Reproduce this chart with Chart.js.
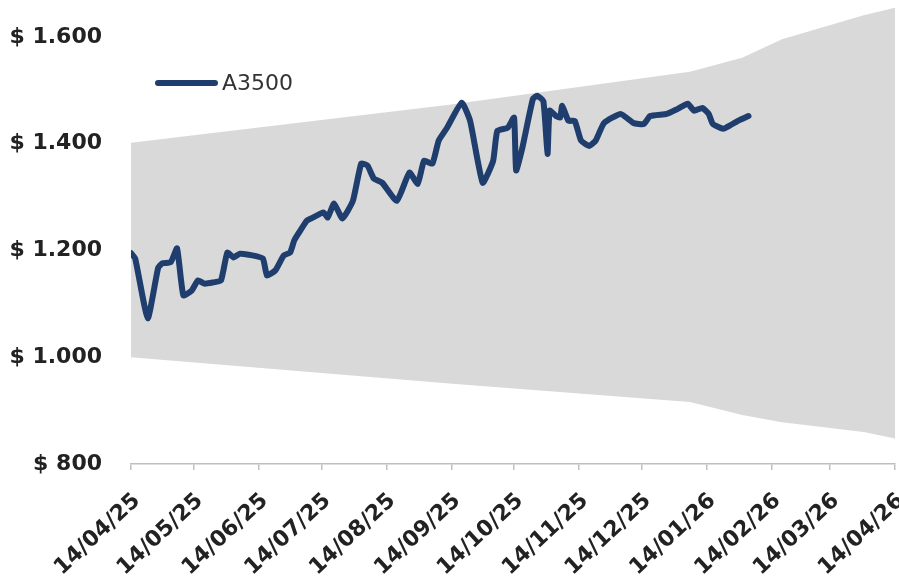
<!DOCTYPE html>
<html>
<head>
<meta charset="utf-8">
<script src="https://cdn.jsdelivr.net/npm/chart.js@4.4.1/dist/chart.umd.min.js"></script>
<style>
  html, body { margin: 0; padding: 0; background: #fff; }
  #wrap { position: relative; width: 899px; height: 580px; }
  #legenda { position: absolute; left: 155px; top: 70px; display: flex; align-items: center; font: 22px "DejaVu Sans"; color: #333; }
  #legenda .linha { display: inline-block; width: 63px; height: 6px; border-radius: 3px; background: #1f3e6e; margin-right: 4px; }
</style>
</head>
<body>
<div id="wrap">
  <canvas id="grafico" width="899" height="580"></canvas>
  <div id="legenda"><span class="linha"></span>A3500</div>
</div>
<script>
// rotulos do eixo x (datas) e do eixo y
const rotulosX = ['14/04/25', '14/05/25', '14/06/25', '14/07/25', '14/08/25', '14/09/25', '14/10/25',
                  '14/11/25', '14/12/25', '14/01/26', '14/02/26', '14/03/26', '14/04/26'];
const valoresY = [800, 1000, 1200, 1400, 1600];
const rotulosY = ['$ 800', '$ 1.000', '$ 1.200', '$ 1.400', '$ 1.600'];

// serie A3500 (dias desde 14/04/25)
const diasA3500 = [0, 2, 8, 13, 15, 19, 22, 25, 29, 32, 35, 39, 43, 46, 49, 52, 58, 63, 65, 69,
                   73, 76, 78, 80, 84, 86, 92, 94, 97, 101, 106, 110, 113, 116, 120, 127, 133, 137, 140, 144,
                   147, 151, 158, 162, 168, 173, 175, 180, 183, 184, 187, 192, 194, 197, 199, 200, 203, 205, 206, 209,
                   212, 215, 219, 222, 226, 234, 240, 245, 248, 256, 261, 266, 269, 273, 276, 278, 283, 286, 290, 295];
const valoresA3500 = [1195, 1185, 1073, 1168, 1176, 1178, 1204, 1116, 1125, 1144, 1138, 1140, 1144, 1196, 1187, 1194, 1191, 1185, 1153, 1163,
                      1191, 1196, 1219, 1232, 1256, 1260, 1271, 1262, 1288, 1260, 1293, 1363, 1359, 1335, 1327, 1293, 1346, 1325, 1368, 1363,
                      1406, 1430, 1477, 1443, 1327, 1368, 1424, 1430, 1449, 1350, 1393, 1484, 1490, 1480, 1381, 1462, 1452, 1449, 1471, 1443,
                      1443, 1406, 1396, 1406, 1439, 1456, 1439, 1437, 1452, 1456, 1465, 1475, 1462, 1467, 1456, 1437, 1428, 1434, 1443, 1452];

// banda (limites superior e inferior)
const diasBanda = [0, 152, 267, 292, 311, 350, 365];
const bandaSuperior = [1402, 1473, 1535, 1561, 1596, 1641, 1655];
const bandaInferior = [1000, 951, 916, 892, 878, 860, 848];

function diasDesde(rotulo) {
    const [d, m, a] = rotulo.split('/').map(Number);
    return Math.round((Date.UTC(2000 + a, m - 1, d) - Date.UTC(2025, 3, 14)) / 86400000);
}
const diasX = rotulosX.map(diasDesde);

const pontos = (xs, ys) => xs.map((x, i) => ({ x: x, y: ys[i] }));
const fonte = { family: 'DejaVu Sans', size: 22, weight: 'bold' };

function semPadding(s) {
    s.paddingLeft = 0;
    s.paddingRight = 0;
    s.paddingTop = 0;
    s.paddingBottom = 0;
}

new Chart(document.getElementById('grafico'), {
    type: 'line',
    data: {
        datasets: [{
            label: 'A3500',
            data: pontos(diasA3500, valoresA3500),
            borderColor: '#1f3e6e',
            borderWidth: 6,
            pointRadius: 0,
            tension: 0.15,
            borderJoinStyle: 'round',
            borderCapStyle: 'round',
            fill: false
        }, {
            label: 'Superior',
            data: pontos(diasBanda, bandaSuperior),
            borderWidth: 0,
            pointRadius: 0,
            backgroundColor: '#d9d9d9',
            fill: '+1'
        }, {
            label: 'Inferior',
            data: pontos(diasBanda, bandaInferior),
            borderWidth: 0,
            pointRadius: 0,
            fill: false
        }]
    },
    options: {
        responsive: false,
        animation: false,
        layout: { padding: { top: 5, right: 4, left: 0, bottom: 0 } },
        plugins: { legend: { display: false }, tooltip: { enabled: false } },
        scales: {
            x: {
                type: 'linear',
                min: 0,
                max: 365,
                afterBuildTicks: s => { s.ticks = diasX.map(v => ({ value: v })); },
                afterFit: s => { s.height = 116; semPadding(s); },
                grid: { display: true, drawOnChartArea: false, drawTicks: true, tickLength: 6, color: '#bfbfbf', lineWidth: 1.5 },
                border: { display: true, color: '#bfbfbf', width: 1.5 },
                ticks: {
                    autoSkip: false, minRotation: 43, maxRotation: 43, padding: 18, labelOffset: 6,
                    color: '#222', font: fonte,
                    callback: (v, i) => rotulosX[i]
                }
            },
            y: {
                min: 800,
                max: 1660,
                afterBuildTicks: s => { s.ticks = valoresY.map(v => ({ value: v })); },
                afterFit: s => { s.width = 131; semPadding(s); },
                grid: { display: false, drawTicks: false },
                border: { display: false },
                ticks: {
                    padding: 29,
                    color: '#222', font: fonte,
                    callback: (v, i) => rotulosY[i]
                }
            }
        }
    }
});
</script>
</body>
</html>
